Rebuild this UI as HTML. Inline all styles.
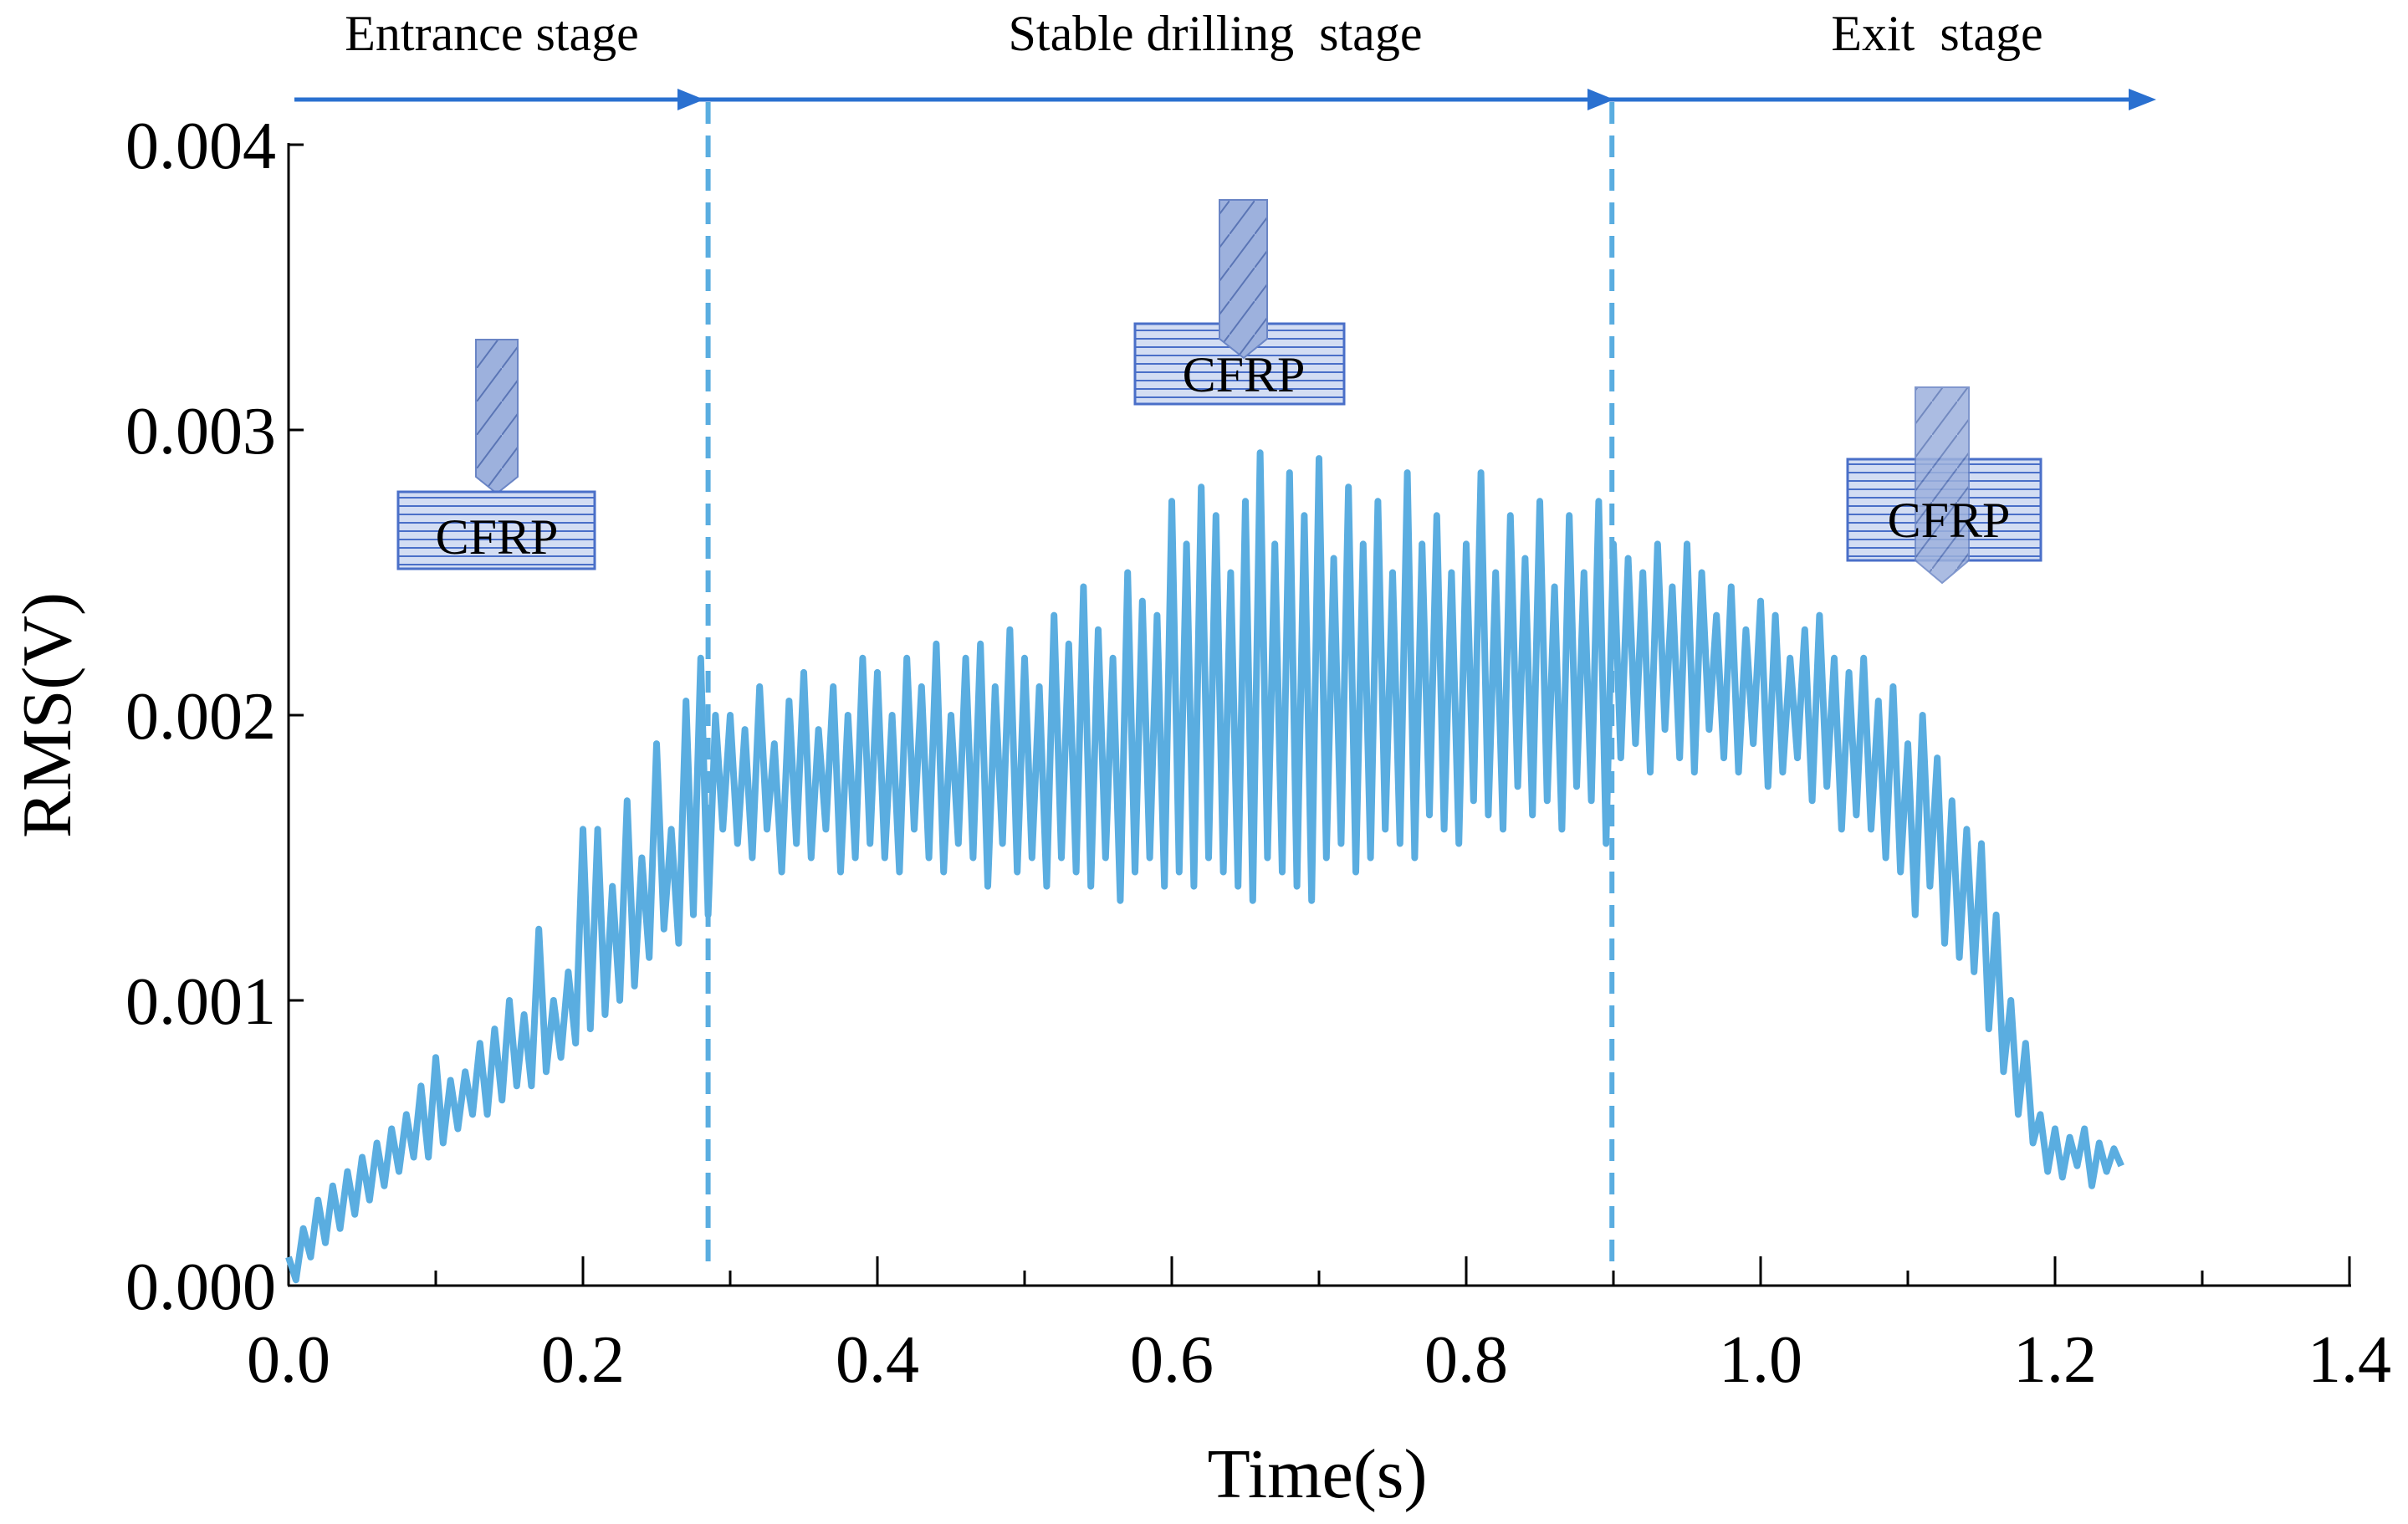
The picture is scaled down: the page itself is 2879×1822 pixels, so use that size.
<!DOCTYPE html>
<html><head><meta charset="utf-8"><style>
html,body{margin:0;padding:0;background:#fff;}
svg{display:block;}
text{font-family:"Liberation Serif",serif;fill:#000;}
</style></head><body>
<svg id="chart" width="2879" height="1822" viewBox="0 0 2879 1822">
<defs>
<pattern id="hatch" width="10" height="10" patternUnits="userSpaceOnUse"><rect width="10" height="10" fill="#d3ddf3"/><line x1="0" y1="5" x2="10" y2="5" stroke="#4a6fc8" stroke-width="2"/></pattern>
<pattern id="twist" width="30" height="40" patternUnits="userSpaceOnUse"><rect width="30" height="40" fill="#9db1dd"/><line x1="0" y1="40" x2="30" y2="0" stroke="#5a75b5" stroke-width="2"/></pattern>
</defs>
<g id="stages">
<line x1="352" y1="119" x2="2560" y2="119" stroke="#2a70d0" stroke-width="5"/>
<polygon points="810,106 842,119 810,132" fill="#2a70d0"/>
<polygon points="1898,106 1930,119 1898,132" fill="#2a70d0"/>
<polygon points="2545,106 2578,119 2545,132" fill="#2a70d0"/>
<text x="588" y="60" font-size="60" text-anchor="middle">Entrance stage</text>
<text x="1453" y="60" font-size="60" text-anchor="middle" xml:space="preserve">Stable drilling  stage</text>
<text x="2316" y="60" font-size="60" text-anchor="middle" xml:space="preserve">Exit  stage</text>
</g>
<g id="icons">
<g>
<polygon points="569,406 619,406 619,570 594,590 569,570" fill="url(#twist)" stroke="#6a85c5" stroke-width="2"/>
<rect x="476" y="588" width="235" height="92" fill="url(#hatch)" stroke="#4a6fc8" stroke-width="3"/>
<text x="594" y="662" font-size="60" text-anchor="middle">CFRP</text>
</g>
<g>
<rect x="1357" y="387" width="250" height="96" fill="url(#hatch)" stroke="#4a6fc8" stroke-width="3"/>
<polygon points="1458,239 1515,239 1515,405 1487,428 1458,405" fill="url(#twist)" stroke="#6a85c5" stroke-width="2"/>
<text x="1487" y="468" font-size="60" text-anchor="middle">CFRP</text>
</g>
<g>
<rect x="2209" y="549" width="231" height="121" fill="url(#hatch)" stroke="#4a6fc8" stroke-width="3"/>
<polygon points="2290,463 2354,463 2354,670 2322,697 2290,670" fill="url(#twist)" stroke="#6a85c5" stroke-width="2" opacity="0.85"/>
<text x="2330" y="642" font-size="60" text-anchor="middle">CFRP</text>
</g>
</g>
<g id="axes"></g>
<g id="series"></g>
<g id="dividers"></g>
<text x="1575" y="1790" font-size="84" text-anchor="middle">Time(s)</text>
<text transform="translate(84,855) rotate(-90)" font-size="84" text-anchor="middle">RMS(V)</text>
</svg>
<script>
const xTicks = [0.0, 0.2, 0.4, 0.6, 0.8, 1.0, 1.2, 1.4];
const xTickLabels = ["0.0","0.2","0.4","0.6","0.8","1.0","1.2","1.4"];
const yTicks = [0.000, 0.001, 0.002, 0.003, 0.004];
const yTickLabels = ["0.000","0.001","0.002","0.003","0.004"];
const stageBoundaries = [0.285, 0.899];
const sampleStep = 0.01;
// peaks (×0.001 V) at t = i*0.01
const highs = [0.1,0.2,0.3,0.35,0.4,0.45,0.5,0.55,0.6,0.7,
0.8,0.72,0.75,0.85,0.9,1.0,0.95,1.25,1.0,1.1,
1.6,1.6,1.4,1.7,1.5,1.9,1.6,2.05,2.2,2.0,
2.0,1.95,2.1,1.9,2.05,2.15,1.95,2.1,2.0,2.2,
2.15,2.0,2.2,2.1,2.25,2.0,2.2,2.25,2.1,2.3,
2.2,2.1,2.35,2.25,2.45,2.3,2.2,2.5,2.4,2.35,
2.75,2.6,2.8,2.7,2.5,2.75,2.92,2.6,2.85,2.7,
2.9,2.55,2.8,2.6,2.75,2.5,2.85,2.6,2.7,2.5,
2.6,2.85,2.5,2.7,2.55,2.75,2.45,2.7,2.5,2.75,
2.6,2.55,2.5,2.6,2.45,2.6,2.5,2.35,2.45,2.3,
2.4,2.35,2.2,2.3,2.35,2.2,2.15,2.2,2.05,2.1,
1.9,2.0,1.85,1.7,1.6,1.55,1.3,1.0,0.85,0.6,
0.55,0.52,0.55,0.5,0.48];
// troughs (×0.001 V) at t = i*0.01 + 0.005
const lows = [0.02,0.1,0.15,0.2,0.25,0.3,0.35,0.4,0.45,0.45,
0.5,0.55,0.6,0.6,0.65,0.7,0.7,0.75,0.8,0.85,
0.9,0.95,1.0,1.05,1.15,1.25,1.2,1.3,1.3,1.6,
1.55,1.5,1.6,1.45,1.55,1.5,1.6,1.45,1.5,1.55,
1.5,1.45,1.6,1.5,1.45,1.55,1.5,1.4,1.55,1.45,
1.5,1.4,1.5,1.45,1.4,1.5,1.35,1.45,1.5,1.4,
1.45,1.4,1.5,1.45,1.4,1.35,1.5,1.45,1.4,1.35,
1.5,1.55,1.45,1.5,1.6,1.55,1.5,1.65,1.6,1.55,
1.7,1.65,1.6,1.75,1.65,1.7,1.6,1.75,1.7,1.55,
1.85,1.9,1.8,1.95,1.85,1.8,1.95,1.85,1.8,1.9,
1.75,1.8,1.85,1.7,1.75,1.6,1.65,1.6,1.5,1.45,
1.3,1.4,1.2,1.15,1.1,0.9,0.75,0.6,0.5,0.4,
0.38,0.42,0.35,0.4,0.42];

const NS = "http://www.w3.org/2000/svg";
const X0 = 345, XPX = 1760, Y0 = 1537, YPX = 341000;
function xs(t){ return X0 + t * XPX; }
function ys(v){ return Y0 - v * YPX; }
function mk(tag, attrs, parent){
  const e = document.createElementNS(NS, tag);
  for (const k in attrs) e.setAttribute(k, attrs[k]);
  parent.appendChild(e);
  return e;
}
const axes = document.getElementById('axes');
const yAxis = mk('line', {x1:X0, y1:ys(0.004)-2, x2:X0, y2:Y0, stroke:'#000', 'stroke-width':3}, axes);


const xAxis = mk('line', {x1:X0-1, y1:Y0, x2:xs(1.4)+2, y2:Y0, stroke:'#000', 'stroke-width':3}, axes);


xTicks.forEach((t, i) => {
  const tk = mk('line', {x1:xs(t), y1:Y0, x2:xs(t), y2:Y0-35, stroke:'#000', 'stroke-width':3}, axes);
  
  
  if (i < xTicks.length - 1) {
    const mt = mk('line', {x1:xs(t+0.1), y1:Y0, x2:xs(t+0.1), y2:Y0-18, stroke:'#000', 'stroke-width':3}, axes);
    
    
  }
  const lb = mk('text', {x:xs(t), y:1652, 'font-size':80, 'text-anchor':'middle'}, axes);
  lb.textContent = xTickLabels[i];
  
  
});
yTicks.forEach((v, i) => {
  const tk = mk('line', {x1:X0, y1:ys(v), x2:X0+18, y2:ys(v), stroke:'#000', 'stroke-width':3}, axes);
  
  
  const lb = mk('text', {x:330, y:ys(v)+28, 'font-size':80, 'text-anchor':'end'}, axes);
  lb.textContent = yTickLabels[i];
  
  
});
let d = '';
highs.forEach((h, i) => {
  const t = i * sampleStep;
  d += (i === 0 ? 'M' : 'L') + xs(t).toFixed(1) + ',' + ys(h / 1000).toFixed(1);
  if (i < lows.length) d += 'L' + xs(t + sampleStep / 2).toFixed(1) + ',' + ys(lows[i] / 1000).toFixed(1);
});
const path = mk('path', {d:d, fill:'none', stroke:'#5aade0', 'stroke-width':8, 'stroke-linejoin':'round'}, document.getElementById('series'));


stageBoundaries.forEach(b => {
  const ln = mk('line', {x1:xs(b), y1:122, x2:xs(b), y2:1515, stroke:'#5aade0', 'stroke-width':6, 'stroke-dasharray':'26,14'}, document.getElementById('dividers'));
  
  
});
</script>
</body></html>
